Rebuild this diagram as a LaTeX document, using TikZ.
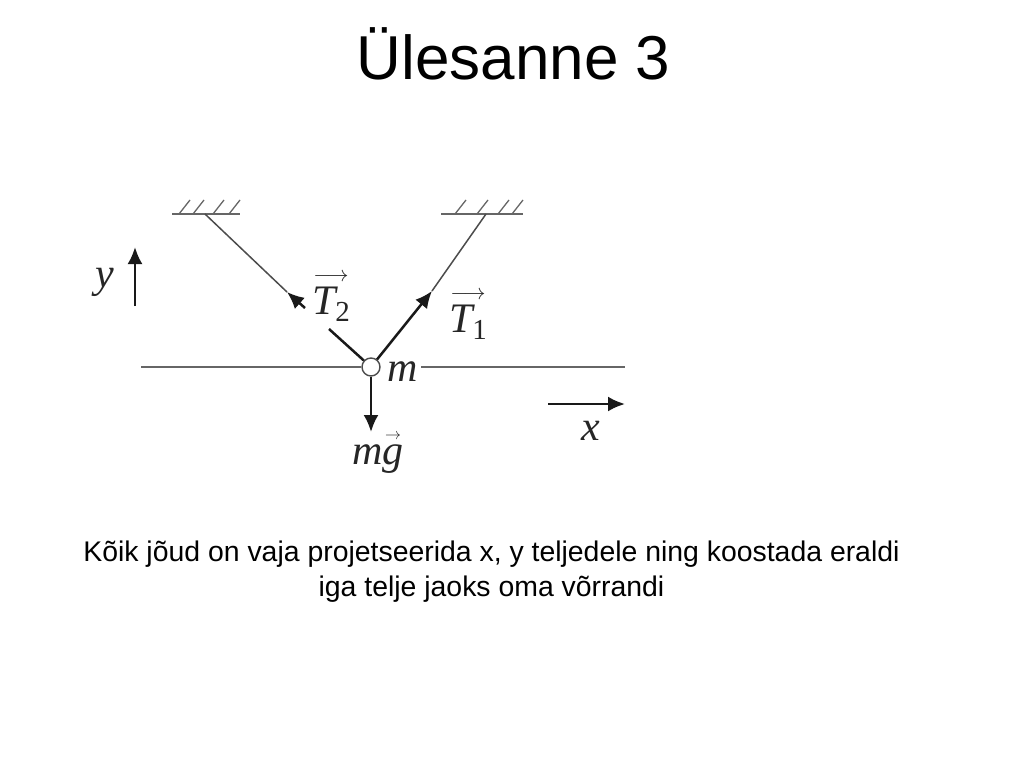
\RequirePackage{fix-cm}
\documentclass[tikz,border=0pt]{standalone}
\usepackage{amsmath}
\usepackage{fontspec}
\setmainfont{Liberation Sans}
\newfontfamily\symfont{Liberation Serif}
\newcommand{\symit}[1]{\mbox{\symfont\itshape #1}}
\newcommand{\symsub}[1]{\raisebox{-7pt}{\symfont\fontsize{29}{29}\selectfont #1}}
\newcommand{\symlong}[1]{\overset{\mbox{\fontsize{22}{22}\selectfont$\longrightarrow$}}{#1}}
\newcommand{\symshort}[1]{\overset{\mbox{\fontsize{16}{16}\selectfont$\rightarrow$}}{#1}}
\usetikzlibrary{arrows.meta, positioning}

\begin{document}
\begin{tikzpicture}[
    x=1pt, y=-1pt,
    title/.style={font=\fontsize{62}{62}\selectfont, inner sep=0pt},
    caption/.style={font=\fontsize{28.4}{35}\selectfont, align=center, inner sep=0pt},
    symbol/.style={font=\fontsize{42}{42}\selectfont, inner sep=0pt, text=black!85},
    mass/.style={circle, draw=black!70, fill=white, line width=1.4pt, minimum size=18pt, inner sep=0pt},
    ceiling/.style={draw=black!60, line width=2.2pt},
    hatch/.style={draw=black!60, line width=1.3pt},
    rope/.style={draw=black!70, line width=1.5pt},
    axisline/.style={draw=black!60, line width=2.6pt},
    force/.style={draw=black!90, line width=2.5pt, -{Latex[length=17pt, width=15pt]}}
]
\useasboundingbox (0,0) rectangle (1024,768);

% Texts
\node[title] (head) at (513.5,54) {Ülesanne 3};
\node[caption] (note) at (491.5,572) {Kõik jõud on vaja projetseerida x, y teljedele ning koostada eraldi\\iga telje jaoks oma võrrandi};

% Ceilings
\coordinate (cl1) at (172,214);
\coordinate (cl2) at (240,214);
\coordinate (cr1) at (441,214);
\coordinate (cr2) at (523,214);
\coordinate (hangl) at (205,214);
\coordinate (hangr) at (486,214);
\draw[ceiling] (cl1) -- (cl2);
\draw[ceiling] (cr1) -- (cr2);
\foreach \hx in {179,193,213,229} {
    \draw[hatch] (\hx,214) -- ++(11,-14);
}
\foreach \hx in {455,477,498,512} {
    \draw[hatch] (\hx,214) -- ++(11,-14);
}

% Mass and horizontal line
\node[mass] (ball) at (371,367) {};
\node[symbol] (m) at (403,372) {\symit{m}};
\coordinate (linel) at (141,367);
\coordinate (liner) at (625,367);
\coordinate (linem) at (421,367);
\draw[axisline] (linel) -- (ball);
\draw[axisline] (linem) -- (liner);

% Ropes
\coordinate (tipl) at (287,292);
\coordinate (taill) at (305,308);
\coordinate (stubl) at (329,329);
\coordinate (tipr) at (432,291);
\draw[rope] (hangl) -- (tipl);
\draw[rope] (hangr) -- (tipr);

% Forces
\draw[force] (taill) -- (tipl);
\draw[force, -] (stubl) -- (ball);
\draw[force] (ball) -- (tipr);
\coordinate (tipg) at (371,432);
\draw[force] (ball) -- (tipg);
\node[symbol] (t2) at (331,296) {$\symlong{\symit{T}\symsub{2}}$};
\node[symbol] (t1) at (468,314) {$\symlong{\symit{T}\symsub{1}}$};
\node[symbol] (mg) at (378,452) {$\symit{m}\symshort{\symit{g}}$};

% Axes
\coordinate (ya) at (135,306);
\coordinate (yb) at (135,247);
\coordinate (xa) at (548,404);
\coordinate (xb) at (625,404);
\draw[force] (ya) -- (yb);
\draw[force] (xa) -- (xb);
\node[symbol] (ylab) at (105,282) {\symit{y}};
\node[symbol] (xlab) at (591,431) {\symit{x}};

\end{tikzpicture}
\end{document}
